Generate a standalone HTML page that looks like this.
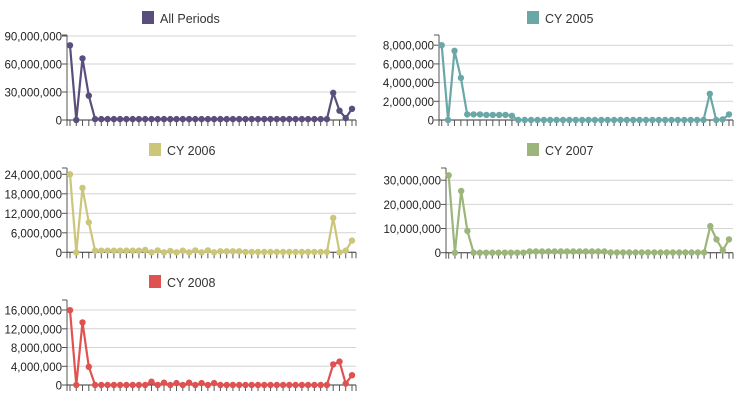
<!DOCTYPE html>
<html><head><meta charset="utf-8"><style>
html,body{margin:0;padding:0;background:#fff;}
svg{display:block;font-family:"Liberation Sans",sans-serif;}
</style></head><body>
<svg id="s" width="737" height="400" xmlns="http://www.w3.org/2000/svg"></svg>
<script>
function rep(v,n){return Array(n).fill(v);}
var charts=[
 {t:"All Periods",c:"#5a4f7c",ax:67,top:35,zero:120,x0:70,x1:352,right:356,tx:142,ty:11,
  ticks:[0,30,60,90],tickY:[120,92,64,36],
  d:[80,0,66,26].concat(rep(1,38)).concat([29,10,2,12])},
 {t:"CY 2005",c:"#6aa8a8",ax:439,top:35,zero:120,x0:441.7,x1:729,right:733,tx:527,ty:11,
  ticks:[0,2,4,6,8],tickY:[120,101.3,82.6,63.9,45.2],
  d:[8,0,7.4,4.5,0.6,0.6,0.6,0.55,0.55,0.55,0.55,0.45].concat(rep(0,30)).concat([2.8,0,0.05,0.6])},
 {t:"CY 2006",c:"#cbc67a",ax:67,top:168,zero:252.3,x0:70,x1:352,right:356,tx:149,ty:143,
  ticks:[0,6,12,18,24],tickY:[252.3,232.8,213.3,193.8,174.3],
  d:[24,0,19.8,9.2,0.5,0.5,0.5,0.5,0.5,0.5,0.5,0.5,0.7,0,0.6,0,0.4,0,0.5,0,0.6,0,0.6,0,0.3,0.3,0.3,0.3].concat(rep(0.1,14)).concat([10.6,0,0.5,3.6])},
 {t:"CY 2007",c:"#9bb57a",ax:446,top:168,zero:252.7,x0:448.7,x1:729,right:733,tx:527,ty:143,
  ticks:[0,10,20,30],tickY:[252.7,228.5,204.4,180.2],
  d:[32,0,25.5,9].concat(rep(0,9)).concat(rep(0.5,13)).concat(rep(0.1,16)).concat([11,5.5,1,5.5])},
 {t:"CY 2008",c:"#e05252",ax:67,top:300,zero:385,x0:70,x1:352,right:356,tx:149,ty:275,
  ticks:[0,4,8,12,16],tickY:[385,366.3,347.5,328.8,310],
  d:[16,0,13.4,3.9].concat(rep(0,9)).concat([0.7,0,0.5,0,0.4,0,0.5,0,0.4,0,0.4]).concat(rep(0,18)).concat([4.4,5,0.3,2.1])}
];
var s="";
charts.forEach(function(ch){
 var sc=(ch.zero-ch.tickY[1])/ch.ticks[1];
 s+='<rect x="'+ch.tx+'" y="'+ch.ty+'" width="12" height="13" fill="'+ch.c+'"/>';
 s+='<text x="'+(ch.tx+18)+'" y="'+(ch.ty+12)+'" font-size="12.5" fill="#333">'+ch.t+'</text>';
 ch.ticks.forEach(function(v,i){
  var y=ch.tickY[i];
  if(i>0)s+='<line x1="'+ch.ax+'" x2="'+ch.right+'" y1="'+y+'" y2="'+y+'" stroke="#d4d4d4" stroke-width="1"/>';
  s+='<line x1="'+(ch.ax-5)+'" x2="'+ch.ax+'" y1="'+y+'" y2="'+y+'" stroke="#555"/>';
  var lab=v==0?"0":(v*1e6).toLocaleString("en-US");
  s+='<text x="'+(ch.ax-5)+'" y="'+(y+4.5)+'" font-size="11.5" text-anchor="end" fill="#222">'+lab+'</text>';
 });
 s+='<line x1="'+ch.ax+'" x2="'+ch.ax+'" y1="'+ch.top+'" y2="'+(ch.zero+6)+'" stroke="#555"/>';
 s+='<line x1="'+(ch.ax-5)+'" x2="'+ch.ax+'" y1="'+ch.top+'" y2="'+ch.top+'" stroke="#555"/>';
 s+='<line x1="'+ch.ax+'" x2="'+ch.right+'" y1="'+ch.zero+'" y2="'+ch.zero+'" stroke="#333"/>';
 var n=ch.d.length,dx=(ch.x1-ch.x0)/(n-1),pts=[];
 for(var i=0;i<n;i++){var x=ch.x0+i*dx;pts.push([x,ch.zero-ch.d[i]*sc]);
  s+='<line x1="'+x+'" x2="'+x+'" y1="'+ch.zero+'" y2="'+(ch.zero+6)+'" stroke="#555"/>';}
 s+='<line x1="'+ch.right+'" x2="'+ch.right+'" y1="'+ch.zero+'" y2="'+(ch.zero+6)+'" stroke="#555"/>';
 s+='<polyline fill="none" stroke="'+ch.c+'" stroke-width="2.2" points="'+pts.map(function(p){return p[0].toFixed(1)+','+p[1].toFixed(1)}).join(' ')+'"/>';
 pts.forEach(function(p){s+='<circle cx="'+p[0].toFixed(1)+'" cy="'+p[1].toFixed(1)+'" r="3.2" fill="'+ch.c+'"/>';});
});
document.getElementById("s").innerHTML=s;
</script>
</body></html>
